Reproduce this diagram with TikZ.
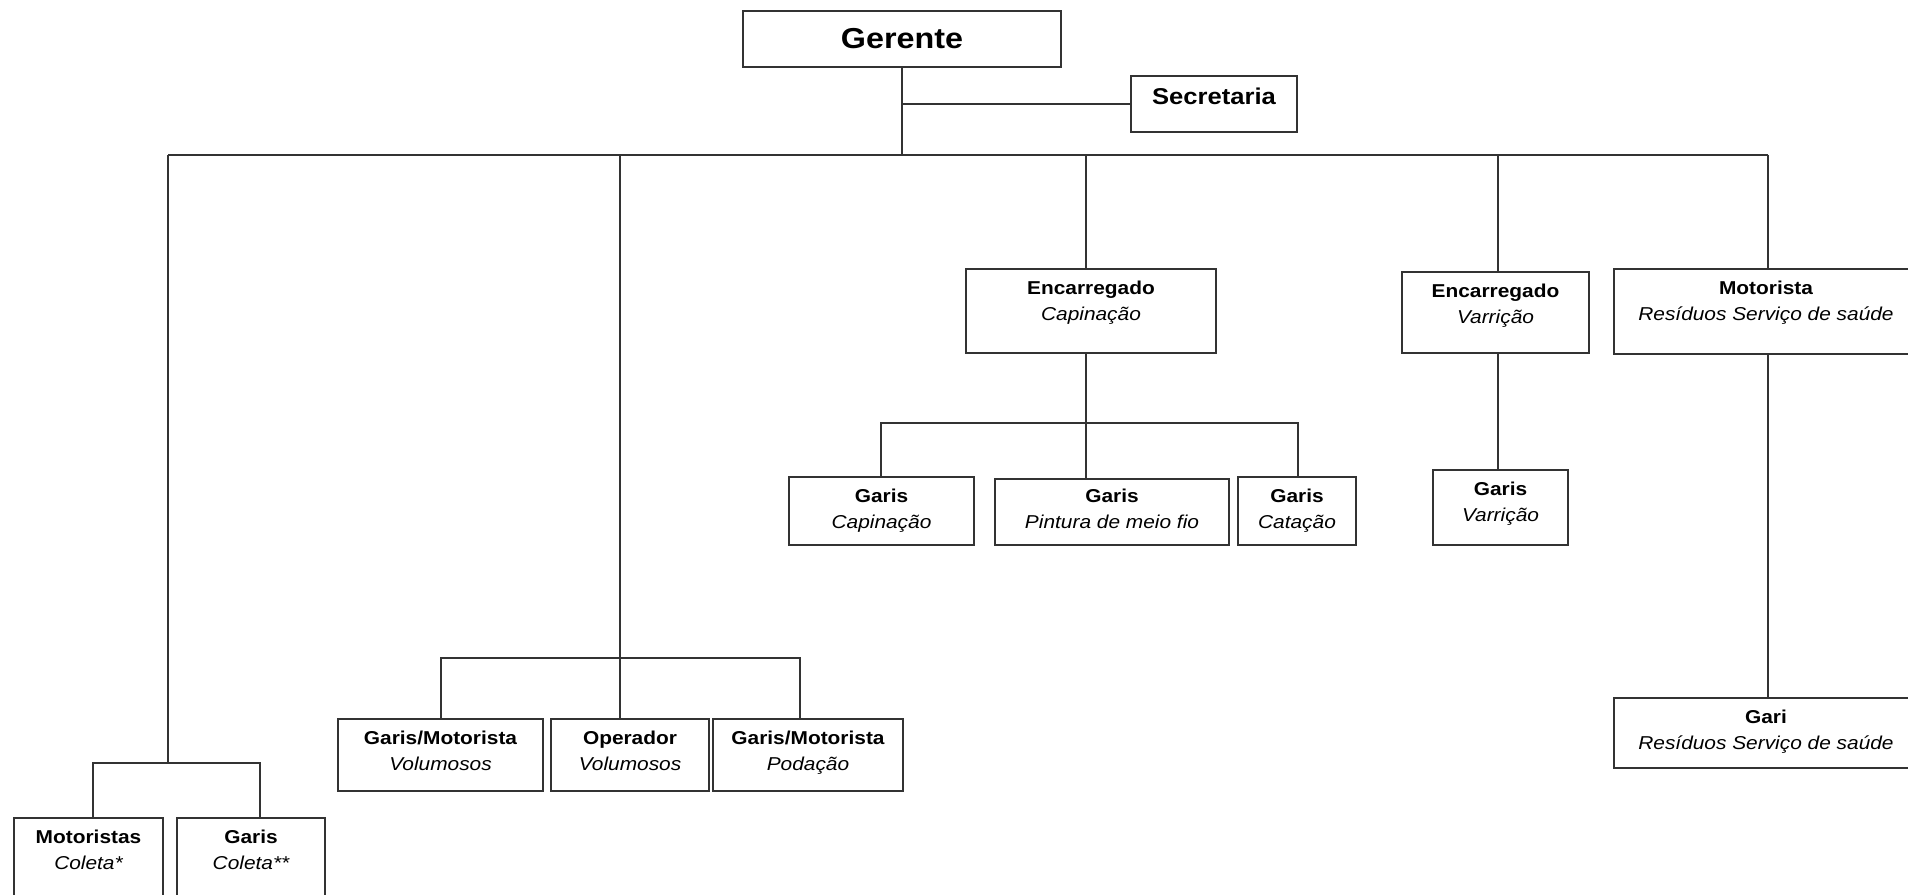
\documentclass[tikz,border=0pt]{standalone}
\usepackage{fontspec}
\setmainfont{Liberation Sans}[FakeStretch=1.12]
\usetikzlibrary{fit}
\tikzset{
  box/.style={draw=black!80, line width=0.6pt, inner sep=0pt, rectangle},
  conn/.style={draw=black!80, line width=0.6pt},
  ttl/.style={anchor=base, inner sep=0pt, font=\bfseries\fontsize{5.3}{6}\selectfont},
  subt/.style={anchor=base, inner sep=0pt, font=\itshape\fontsize{5.3}{6}\selectfont},
}
\newcommand\obox[7]{%
  \node[box, fit={(#2,#3) (#4,#5)}] (#1) {};
  \node[ttl] (#1-t) at ([yshift=-0.27cm]#1.north) {#6};
  \node[subt] (#1-s) at ([yshift=-0.53cm]#1.north) {#7};}
\begin{document}
\begin{tikzpicture}[x=0.01cm, y=-0.01cm]
\useasboundingbox[fill=white] (0,0) rectangle (1908,895);
% top
\node[box, fit={(743,11) (1061,67)}] (ger) {};
\node[anchor=base, inner sep=0pt, font=\bfseries\fontsize{8.2}{9}\selectfont] (ger-t) at ([yshift=-0.39cm]ger.north) {Gerente};
\node[box, fit={(1131,76) (1297,132)}] (sec) {};
\node[anchor=base, inner sep=0pt, font=\bfseries\fontsize{6.5}{7}\selectfont] (sec-t) at ([yshift=-0.30cm]sec.north) {Secretaria};
% level boxes
\obox{encC}{966}{269}{1216}{353}{Encarregado}{Capinação}
\obox{encV}{1402}{272}{1589}{353}{Encarregado}{Varrição}
\obox{motR}{1614}{269}{1918}{354}{Motorista}{Resíduos Serviço de saúde}
\obox{gcap}{789}{477}{974}{545}{Garis}{Capinação}
\node[box, fit={(995,479) (1229,545)}] (pint) {};
\node[ttl] (pint-t) at ([yshift=-0.25cm]pint.north) {Garis};
\node[subt] (pint-s) at ([yshift=-0.51cm]pint.north) {Pintura de meio fio};
\obox{gcat}{1238}{477}{1356}{545}{Garis}{Catação}
\obox{garV}{1433}{470}{1568}{545}{Garis}{Varrição}
\obox{gariR}{1614}{698}{1918}{768}{Gari}{Resíduos Serviço de saúde}
\obox{gmv}{338}{719}{543}{791}{Garis/Motorista}{Volumosos}
\obox{ope}{551}{719}{709}{791}{Operador}{Volumosos}
\obox{gmp}{713}{719}{903}{791}{Garis/Motorista}{Podação}
\obox{mot}{14}{818}{163}{910}{Motoristas}{Coleta*}
\obox{gar}{177}{818}{325}{910}{Garis}{Coleta**}
% connectors
\coordinate (busL) at (168,155);
\coordinate (busR) at (1768,155);
\draw[conn] (ger.south) -- (ger.south |- busL);
\draw[conn] (ger.south |- sec.west) -- (sec.west);
\draw[conn] (busL) -- (busR);
% left
\coordinate (colJ) at (168,763);
\coordinate (colL) at (93,763);
\coordinate (colR) at (260,763);
\draw[conn] (busL) -- (colJ);
\draw[conn] (colL |- mot.north) -- (colL) -- (colR) -- (colR |- gar.north);
% volumosos
\coordinate (volT) at (620,155);
\coordinate (volL) at (441,658);
\coordinate (volR) at (800,658);
\draw[conn] (volT) -- (volT |- ope.north);
\draw[conn] (volL |- gmv.north) -- (volL) -- (volR) -- (volR |- gmp.north);
% capinacao
\coordinate (capT) at (1086,155);
\coordinate (capL) at (881,423);
\coordinate (capR) at (1298,423);
\draw[conn] (capT) -- (capT |- encC.north);
\draw[conn] (capT |- encC.south) -- (capT |- pint.north);
\draw[conn] (capL |- gcap.north) -- (capL) -- (capR) -- (capR |- gcat.north);
% varricao
\coordinate (varT) at (1498,155);
\draw[conn] (varT) -- (varT |- encV.north);
\draw[conn] (varT |- encV.south) -- (varT |- garV.north);
% residuos
\draw[conn] (busR) -- (busR |- motR.north);
\draw[conn] (busR |- motR.south) -- (busR |- gariR.north);
\end{tikzpicture}
\end{document}
